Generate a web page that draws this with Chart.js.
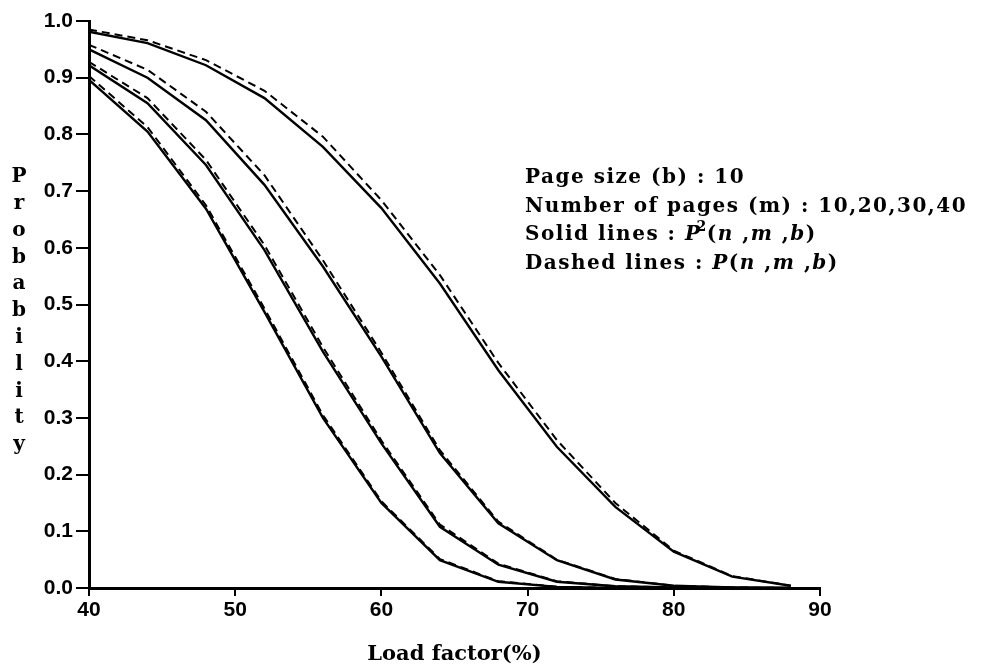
<!DOCTYPE html>
<html>
<head>
<meta charset="utf-8">
<script src="https://cdn.jsdelivr.net/npm/chart.js@4.4.1/dist/chart.umd.min.js"></script>
<style>
  html, body { margin: 0; padding: 0; background: #fff; }
  #wrap { width: 981px; height: 667px; }
</style>
</head>
<body>
<div id="wrap"><canvas id="probChart" width="981" height="667"></canvas></div>
<script>
// load factor (%) where the curves were sampled
const loadFactor = [40, 44, 48, 52, 56, 60, 64, 68, 72, 76, 80, 84, 88];

// solid lines: P^2(n,m,b), dashed lines: P(n,m,b)
const solidM10 = [0.896, 0.805, 0.669, 0.487, 0.300, 0.150, 0.049, 0.011, 0.002, 0.000, 0.000, 0.000, 0.000];
const dashM10  = [0.903, 0.813, 0.675, 0.493, 0.305, 0.153, 0.051, 0.012, 0.002, 0.000, 0.000, 0.000, 0.000];
const solidM20 = [0.922, 0.855, 0.746, 0.596, 0.417, 0.255, 0.108, 0.041, 0.011, 0.003, 0.001, 0.000, 0.000];
const dashM20  = [0.928, 0.864, 0.755, 0.605, 0.425, 0.260, 0.112, 0.043, 0.012, 0.003, 0.001, 0.000, 0.000];
const solidM30 = [0.950, 0.900, 0.825, 0.711, 0.567, 0.408, 0.238, 0.114, 0.049, 0.015, 0.004, 0.001, 0.000];
const dashM30  = [0.958, 0.914, 0.840, 0.728, 0.578, 0.415, 0.243, 0.117, 0.050, 0.016, 0.004, 0.001, 0.000];
const solidM40 = [0.981, 0.961, 0.922, 0.864, 0.778, 0.670, 0.537, 0.384, 0.249, 0.143, 0.064, 0.020, 0.004];
const dashM40  = [0.985, 0.966, 0.931, 0.877, 0.796, 0.684, 0.552, 0.397, 0.261, 0.150, 0.066, 0.021, 0.004];

const yTitle = 'Probability';
const xTitle = 'Load factor(%)';

const toPoints = arr => arr.map((v, i) => ({ x: loadFactor[i], y: v }));

function solid(label, arr) {
    return { label: label, data: toPoints(arr), borderColor: '#000', borderWidth: 2.4, pointRadius: 0, tension: 0, fill: false };
}
function dashed(label, arr) {
    return { label: label, data: toPoints(arr), borderColor: '#000', borderWidth: 2, borderDash: [8, 5], pointRadius: 0, tension: 0, fill: false };
}

// vertical y title + text block on the right
const annotations = {
    id: 'annotations',
    afterDraw(chart) {
        const ctx = chart.ctx;
        ctx.save();
        ctx.fillStyle = '#000';
        ctx.textBaseline = 'middle';
        ctx.textAlign = 'center';
        ctx.font = 'bold 20px "DejaVu Serif"';
        for (let i = 0; i < yTitle.length; i++) {
            ctx.fillText(yTitle[i], 19, 177 + i * 26.8);
        }

        ctx.textAlign = 'left';
        ctx.textBaseline = 'alphabetic';
        ctx.letterSpacing = '1.5px';
        const rm = 'bold 20px "DejaVu Serif"';
        const it = 'italic bold 20px "DejaVu Serif"';
        const lines = [
            [[rm, 'Page size (b) : 10']],
            [[rm, 'Number of pages (m) : 10,20,30,40']],
            [[rm, 'Solid lines : '], [it, 'P'], ['sup', '2'], [rm, '('], [it, 'n'], [rm, ' ,'], [it, 'm'], [rm, ' ,'], [it, 'b'], [rm, ')']],
            [[rm, 'Dashed lines : '], [it, 'P'], [rm, '('], [it, 'n'], [rm, ' ,'], [it, 'm'], [rm, ' ,'], [it, 'b'], [rm, ')']]
        ];
        lines.forEach((parts, i) => {
            let x = 525;
            const y = 183 + i * 28.5;
            parts.forEach(p => {
                if (p[0] === 'sup') {
                    ctx.font = 'bold 14px "DejaVu Serif"';
                    ctx.fillText(p[1], x - 5, y - 9);
                    x += ctx.measureText(p[1]).width - 6;
                } else {
                    ctx.font = p[0];
                    ctx.fillText(p[1], x, y);
                    x += ctx.measureText(p[1]).width;
                }
            });
        });
        ctx.restore();
    }
};

new Chart(document.getElementById('probChart').getContext('2d'), {
    type: 'line',
    data: {
        datasets: [
            solid('m=10', solidM10), dashed('m=10', dashM10),
            solid('m=20', solidM20), dashed('m=20', dashM20),
            solid('m=30', solidM30), dashed('m=30', dashM30),
            solid('m=40', solidM40), dashed('m=40', dashM40)
        ]
    },
    options: {
        responsive: false,
        animation: false,
        layout: { padding: { left: 0, right: 161, top: 21, bottom: 0 } },
        plugins: {
            legend: { display: false },
            tooltip: { enabled: false }
        },
        scales: {
            x: {
                type: 'linear',
                min: 40,
                max: 90,
                afterFit: s => { s.height = 79; },
                ticks: {
                    stepSize: 10,
                    color: '#000',
                    padding: 2,
                    font: { family: '"Liberation Sans"', size: 21, weight: 'bold' }
                },
                grid: { display: true, drawOnChartArea: false, drawTicks: true, tickLength: 8, color: '#000', lineWidth: 2 },
                border: { display: true, color: '#000', width: 3 },
                title: {
                    display: true,
                    text: xTitle,
                    color: '#000',
                    padding: { top: 8, bottom: 0 },
                    font: { family: '"DejaVu Serif"', size: 21, weight: 'bold' }
                }
            },
            y: {
                min: 0,
                max: 1,
                afterFit: s => { s.width = 89; },
                ticks: {
                    stepSize: 0.1,
                    color: '#000',
                    padding: 3,
                    font: { family: '"Liberation Sans"', size: 21, weight: 'bold' },
                    callback: v => v.toFixed(1)
                },
                grid: { display: true, drawOnChartArea: false, drawTicks: true, tickLength: 13, color: '#000', lineWidth: 2 },
                border: { display: true, color: '#000', width: 3 }
            }
        }
    },
    plugins: [annotations]
});
</script>
</body>
</html>
